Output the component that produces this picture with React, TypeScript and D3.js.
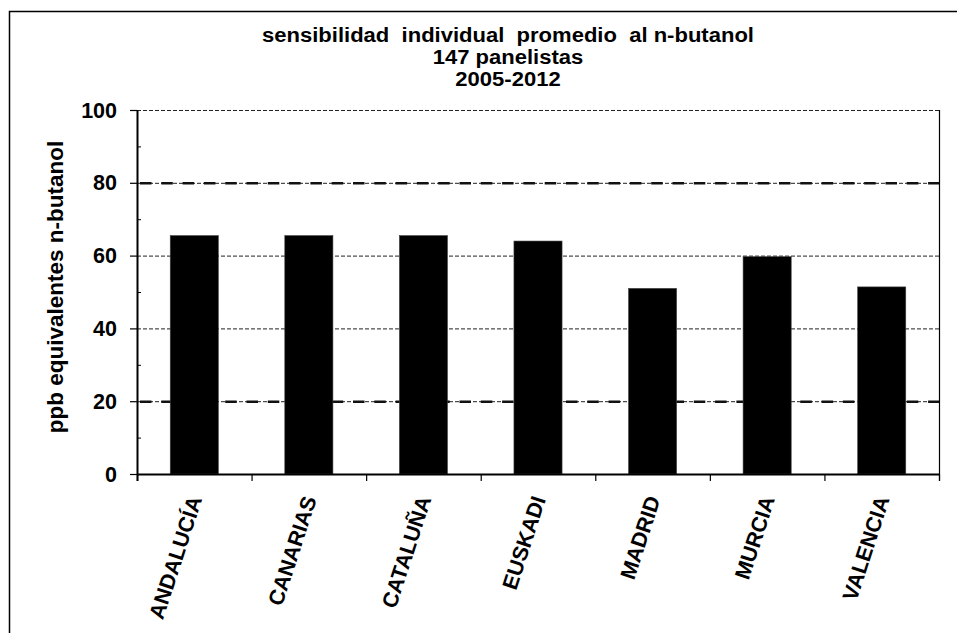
import React from 'react';
import * as d3 from 'd3';

const categories = ['ANDALUCÍA', 'CANARIAS', 'CATALUÑA', 'EUSKADI', 'MADRID', 'MURCIA', 'VALENCIA'];
const values = [65.5, 65.5, 65.5, 64.0, 51.0, 59.7, 51.4];
const yTicks = [0, 20, 40, 60, 80, 100];
const yMinorTicks = [10, 30, 50, 70, 90];
const gridValues = [20, 40, 60, 80, 100];
const refLines = [20, 80];
const titleLines = ['sensibilidad  individual  promedio  al n-butanol', '147 panelistas', '2005-2012'];
const yLabel = 'ppb equivalentes n-butanol';

const W = 957;
const H = 633;
const M = { left: 137, right: 939, top: 110, bottom: 474 };
const FONT = '"Liberation Sans", Arial, sans-serif';

export default function App() {
  const x = d3
    .scaleBand<string>()
    .domain(categories)
    .range([M.left, M.right])
    .paddingInner(0.58)
    .paddingOuter(0.29);
  const y = d3.scaleLinear().domain([0, 100]).range([M.bottom, M.top]);
  const step = x.step();
  const boundaries = d3.range(categories.length + 1).map((i) => M.left + i * step);

  return (
    <svg
      width={W}
      height={H}
      style={{ position: 'absolute', left: 0, top: 0, background: '#fff' }}
      fontFamily={FONT}
    >
      <rect x={0} y={0} width={W} height={H} fill="#fff" />
      {/* outer chart frame */}
      <rect x={9.5} y={11.5} width={980} height={700} fill="none" stroke="#000" strokeWidth={1.5} />

      {/* title */}
      <g transform="translate(508,0) scale(1.13,1)">
        {titleLines.map((t, i) => (
          <text
            key={i}
            x={0}
            y={42.5 + i * 22}
            textAnchor="middle"
            fontSize={19.5}
            fontWeight="bold"
            style={{ whiteSpace: 'pre' }}
          >
            {t}
          </text>
        ))}
      </g>

      {/* thin dashed gridlines */}
      {gridValues.map((v) => (
        <line
          key={'g' + v}
          x1={M.left}
          x2={M.right}
          y1={y(v) + 0.5}
          y2={y(v) + 0.5}
          stroke="#222"
          strokeWidth={1}
          strokeDasharray="4,2"
        />
      ))}
      {/* reference lines */}
      {refLines.map((v) => (
        <line
          key={'r' + v}
          x1={M.left + 3}
          x2={M.right}
          y1={y(v) + 0.5}
          y2={y(v) + 0.5}
          stroke="#111"
          strokeWidth={2.5}
          strokeDasharray="11.5,9.8"
        />
      ))}

      {/* bars */}
      {categories.map((c, i) => (
        <rect
          key={c}
          x={x(c)}
          y={y(values[i])}
          width={x.bandwidth()}
          height={y(0) - y(values[i])}
          fill="#000"
          stroke="#444"
          strokeWidth={0.6}
        />
      ))}

      {/* plot right border */}
      <line x1={M.right + 0.5} x2={M.right + 0.5} y1={M.top} y2={M.bottom + 7} stroke="#000" strokeWidth={1.2} />

      {/* y axis */}
      <line x1={M.left + 0.5} x2={M.left + 0.5} y1={M.top} y2={M.bottom + 7} stroke="#000" strokeWidth={2} />
      {yTicks.map((v) => (
        <g key={'t' + v}>
          <line x1={M.left - 7} x2={M.left} y1={y(v) + 0.5} y2={y(v) + 0.5} stroke="#000" strokeWidth={1.2} />
          <text x={M.left - 20} y={y(v) + 7.5} textAnchor="end" fontSize={21.5} fontWeight="bold">
            {v}
          </text>
        </g>
      ))}
      {yMinorTicks.map((v) => (
        <line key={'m' + v} x1={M.left} x2={M.left + 4} y1={y(v) + 0.5} y2={y(v) + 0.5} stroke="#000" strokeWidth={1} />
      ))}

      {/* x axis */}
      <line x1={M.left} x2={M.right + 1} y1={M.bottom + 0.5} y2={M.bottom + 0.5} stroke="#000" strokeWidth={2} />
      {boundaries.map((bx, i) => (
        <line key={'xb' + i} x1={bx + 0.5} x2={bx + 0.5} y1={M.bottom} y2={M.bottom + 7} stroke="#000" strokeWidth={1.2} />
      ))}
      {categories.map((c) => {
        const cx = (x(c) as number) + x.bandwidth() / 2 + 8;
        const cy = M.bottom + 25;
        return (
          <text
            key={'l' + c}
            transform={`translate(${cx},${cy}) rotate(-72)`}
            textAnchor="end"
            fontSize={21.5}
            fontWeight="bold"
          >
            {c}
          </text>
        );
      })}

      {/* y label */}
      <text
        transform={`translate(63,${(M.top + M.bottom) / 2 - 5}) rotate(-90)`}
        textAnchor="middle"
        fontSize={22.5}
        fontWeight="bold"
      >
        {yLabel}
      </text>
    </svg>
  );
}
